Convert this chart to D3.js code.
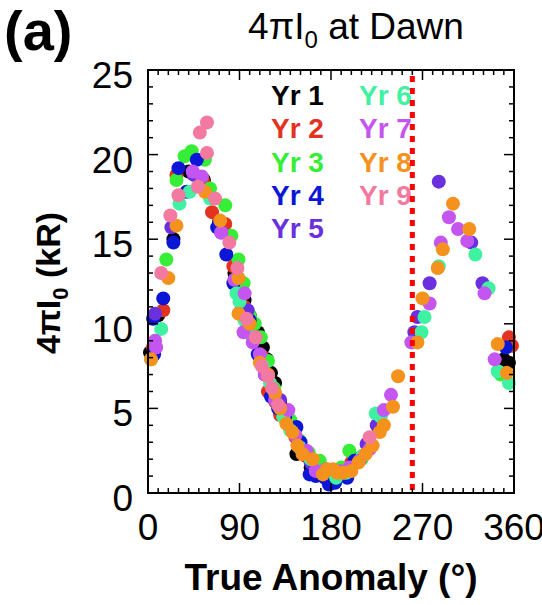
<!DOCTYPE html>
<html><head><meta charset="utf-8">
<script src="https://cdn.jsdelivr.net/npm/d3@7"></script>
<style>body{margin:0;background:#fff;} svg{display:block;}</style>
</head><body>
<svg id="c" width="542" height="605"></svg>
<script>
// ---- data (true anomaly in degrees, 4πI0 in kR) ----
const years = ["Yr 1","Yr 2","Yr 3","Yr 4","Yr 5","Yr 6","Yr 7","Yr 8","Yr 9"];
const colors = ["#000000","#e3321f","#35ee35","#0b16d6","#6a30e0","#3ff2a2","#c455f0","#f5921e","#f27aa0"];
const yr1 = [[2,8.3],[10,10.5],[25,15],[40,19],[55,18.5],[70,16],[85,13],[95,11.4],[100,10.5],[108,9.5],[113,8.6],[117,7.9],[121,7.1],[125,6.5],[130,5.3],[135,4.6],[140,3.8],[146,2.3],[150,2.8],[160,1.5],[168,1.3],[175,1.2],[190,1.4],[205,2],[350,7.9],[355,7.7]];
const yr2 = [[5,8.6],[15,10.8],[28,18.8],[54,18.5],[63,16.6],[76,15.9],[84,13.4],[90,12.3],[95,11],[100,10.2],[105,9.3],[112,8.1],[118,6.0],[125,5.4],[130,4.6],[139,4.2],[145,3.3],[155,2.2],[165,1.6],[170,1.4],[178,1.0],[185,1.1],[200,1.8],[355,9.2],[358,8.7]];
const yr3 = [[3,7.9],[18,13.8],[28,18.5],[36,19.9],[43,20.2],[56,19.7],[61,18.0],[76,17.0],[82,15.2],[89,13.8],[94,12.4],[100,10.5],[105,10.0],[111,9.2],[118,7.8],[124,6.2],[130,5.0],[140,4.3],[149,3.1],[158,2.4],[169,1.9],[180,1.0],[190,1.5],[198,2.5],[210,2.0],[347,7.0]];
const yr4 = [[5,10.3],[6,8.2],[15,11.5],[25,14.8],[30,19.2],[38,17.8],[48,19.7],[68,15.7],[77,14.1],[84,12.4],[92,10.8],[100,10.2],[108,8.2],[115,7.0],[121,5.7],[128,5.0],[135,4.5],[146,3.9],[150,3.0],[159,1.1],[165,1.0],[174,0.9],[178,0.5],[184,0.6],[196,0.9],[203,1.9],[352,8.6]];
const yr5 = [[7,10.6],[23,15.7],[45,18.8],[72,15.4],[98,10.8],[130,5.5],[160,1.8],[188,1.2],[215,2.9],[225,4.0],[262,9.5],[265,10.4],[277,12.4],[286,18.4],[318,14.8],[329,12.4]];
const yr6 = [[13,9.7],[31,17.1],[41,17.8],[61,17.4],[87,11.8],[90,11.3],[95,10.2],[103,9.2],[113,7.5],[120,6.5],[133,4.5],[140,3.7],[149,2.7],[160,2.0],[172,1.3],[185,0.9],[195,1.2],[211,2.2],[224,4.7],[229,4.5],[269,9.5],[272,10.4],[286,13.4],[322,14.1],[335,12.1],[344,7.2],[355,6.5]];
const yr7 = [[7,9.0],[8,8.6],[44,19.0],[53,18.7],[72,15.4],[85,12.6],[95,11.8],[94,9.5],[103,8.9],[110,8.2],[115,7.0],[125,5.5],[138,4.9],[145,3.4],[156,2.5],[165,1.3],[175,1.4],[188,1.3],[198,1.5],[208,1.9],[218,2.6],[232,4.9],[239,5.8],[259,8.9],[277,11.2],[288,14.8],[296,16.3],[305,15.6],[314,14.9],[331,11.8],[341,7.9]];
const yr8 = [[3,7.9],[20,12.7],[28,15.8],[56,17.8],[71,16.1],[89,12.7],[89,10.6],[100,10.0],[110,7.7],[118,7.0],[125,5.9],[130,5.0],[136,4.1],[142,3.6],[147,2.8],[152,2.3],[162,2.0],[172,1.1],[176,1.4],[182,1.4],[186,1.2],[192,1.2],[200,1.3],[207,1.8],[214,2.3],[221,2.8],[228,3.6],[232,4.0],[241,5.1],[246,6.9],[265,8.9],[270,11.5],[285,13.3],[290,14.4],[300,17.1],[316,15.6],[344,8.8],[353,7.1]];
const yr9 = [[13,13.0],[22,16.4],[30,17.6],[49,18.1],[51,21.3],[58,21.9],[58,20.1],[66,17.4],[80,14.8],[88,13.3],[97,10.3],[106,9.2],[112,7.5],[118,6.9],[122,6.2],[128,5.2],[218,3.3]];
const series = [yr1,yr2,yr3,yr4,yr5,yr6,yr7,yr8,yr9];
const xTicks = [0,90,180,270,360];
const yTicks = [0,5,10,15,20,25];
const markerTA = 260;

// ---- layout ----
const svg = d3.select("#c");
const L = 148, R = 514, T = 70, B = 493;
const x = d3.scaleLinear().domain([0,360]).range([L,R]);
const y = d3.scaleLinear().domain([0,25]).range([B,T]);
const font = "'Liberation Sans', Arial, Helvetica, sans-serif";

// points
series.forEach((s,i)=>{
  svg.append("g").selectAll("circle").data(s).join("circle")
    .attr("cx",d=>x(d[0])).attr("cy",d=>y(d[1])).attr("r",7)
    .attr("fill",colors[i]);
});

// legend
const lg = svg.append("g").attr("font-family",font).attr("font-weight","bold").attr("font-size",28);
years.forEach((t,i)=>{
  const col = i<5?0:1, row = i<5?i:i-5;
  lg.append("text").attr("x", col===0?271:359).attr("y",105+row*33.3)
    .attr("fill",colors[i]).text(t);
});

// red dotted line
svg.append("line").attr("x1",x(markerTA)).attr("x2",x(markerTA))
  .attr("y1",T+6).attr("y2",B).attr("stroke","#ff0000").attr("stroke-width",5)
  .attr("stroke-dasharray","6,6");

// frame + ticks (inward on all sides)
const ax = svg.append("g").attr("stroke","#000").attr("fill","none");
ax.append("rect").attr("x",L).attr("y",T).attr("width",R-L).attr("height",B-T).attr("stroke-width",2);
d3.range(0,361,10).forEach(v=>{
  const len = v%90===0?10:5;
  ax.append("line").attr("x1",x(v)).attr("x2",x(v)).attr("y1",B).attr("y2",B-len).attr("stroke-width",1.5);
  ax.append("line").attr("x1",x(v)).attr("x2",x(v)).attr("y1",T).attr("y2",T+len).attr("stroke-width",1.5);
});
d3.range(0,26,1).forEach(v=>{
  const len = v%5===0?10:5;
  ax.append("line").attr("x1",L).attr("x2",L+len).attr("y1",y(v)).attr("y2",y(v)).attr("stroke-width",1.5);
  ax.append("line").attr("x1",R).attr("x2",R-len).attr("y1",y(v)).attr("y2",y(v)).attr("stroke-width",1.5);
});

// tick labels
const tl = svg.append("g").attr("font-family",font).attr("font-size",37).attr("fill","#000");
xTicks.forEach(v=>tl.append("text").attr("x",x(v)).attr("y",B+47).attr("text-anchor","middle").text(v));
yTicks.forEach(v=>tl.append("text").attr("x",L-15).attr("y",y(v)+18).attr("text-anchor","end").text(v));

// axis titles
svg.append("text").attr("x",331).attr("y",590).attr("text-anchor","middle")
  .attr("font-family",font).attr("font-size",37).attr("font-weight","bold").text("True Anomaly (°)");
const yl = svg.append("text").attr("transform","translate(60,283) rotate(-90)").attr("text-anchor","middle")
  .attr("font-family",font).attr("font-size",34).attr("font-weight","bold");
yl.append("tspan").text("4πI");
yl.append("tspan").attr("font-size",22).attr("dy",8).text("0");
yl.append("tspan").attr("dy",-8).text(" (kR)");

// title
const tt = svg.append("text").attr("x",356).attr("y",39).attr("text-anchor","middle")
  .attr("font-family",font).attr("font-size",37);
tt.append("tspan").text("4πI");
tt.append("tspan").attr("font-size",24).attr("dy",9).text("0");
tt.append("tspan").attr("dy",-9).text(" at Dawn");

svg.append("text").attr("x",4).attr("y",50).attr("font-family",font).attr("font-weight","bold")
  .attr("font-size",56).text("(a)");
</script>
</body></html>
